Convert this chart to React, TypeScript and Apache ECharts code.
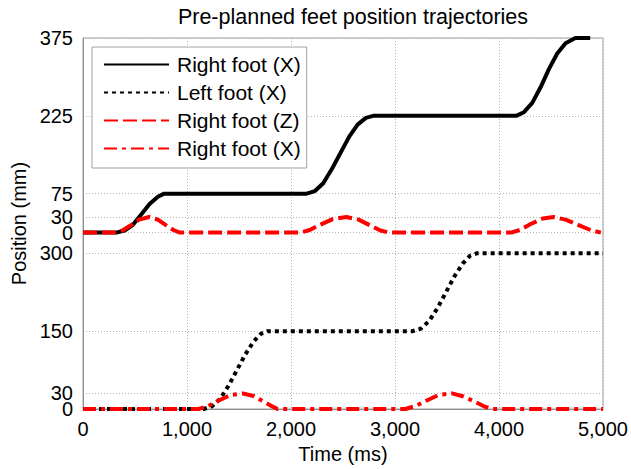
import React, { useEffect, useRef } from "react";
import * as echarts from "echarts";

const chartTitle = "Pre-planned feet position trajectories";
const xAxisName = "Time (ms)";
const yAxisName = "Position (mm)";
const legendLabels = ["Right foot (X)", "Left foot (X)", "Right foot (Z)", "Right foot (X)"];
const seriesKeys = ["rfx", "lfx", "rfz", "lfz"];
const xTicks = [0, 1000, 2000, 3000, 4000, 5000];
const upperTicks = [0, 30, 75, 225, 375];
const lowerTicks = [0, 30, 150, 300];

// upper panel (time ms, position mm)
const rightFootX: [number, number][] = [
  [0, 0], [320, 0], [400, 4], [480, 15], [560, 35], [640, 55], [720, 69], [780, 75],
  [2150, 75], [2230, 80], [2310, 95], [2400, 125], [2480, 155], [2560, 185], [2640, 208], [2720, 221], [2790, 225],
  [4165, 225], [4240, 232], [4320, 250], [4400, 280], [4480, 315], [4560, 345], [4640, 365], [4734, 375], [4877, 375],
];
const rightFootZ: [number, number][] = [
  [0, 0], [300, 0], [380, 4], [460, 14], [540, 25], [635, 30], [720, 25], [800, 14], [870, 5], [930, 0],
  [2090, 0], [2180, 5], [2280, 15], [2400, 26], [2533, 30], [2650, 25], [2760, 14], [2860, 4], [2940, 0],
  [4118, 0], [4200, 5], [4300, 16], [4420, 27], [4525, 30], [4640, 25], [4760, 15], [4880, 5], [4980, 0],
];
// lower panel
const leftFootX: [number, number][] = [
  [0, 0], [1160, 0], [1240, 5], [1320, 20], [1400, 45], [1480, 75], [1560, 105], [1640, 130], [1710, 145], [1774, 150],
  [3170, 150], [3250, 155], [3330, 170], [3410, 195], [3490, 225], [3570, 255], [3650, 280], [3720, 295], [3785, 300],
  [5000, 300],
];
const leftFootZ: [number, number][] = [
  [0, 0], [1110, 0], [1200, 5], [1300, 16], [1420, 27], [1537, 30], [1640, 25], [1740, 14], [1820, 5], [1870, 0],
  [3100, 0], [3200, 6], [3300, 16], [3420, 27], [3548, 30], [3660, 24], [3780, 13], [3870, 4], [3937, 0],
  [5000, 0],
];

const UPPER_OFFSET = 340;
const Y_MAX = UPPER_OFFSET + upperTicks[upperTicks.length - 1];
const FONT = "Liberation Sans, Arial, sans-serif";

export default function App() {
  const ref = useRef<HTMLDivElement>(null);
  useEffect(() => {
    if (!ref.current) return;
    const chart = echarts.init(ref.current, undefined, { renderer: "svg" });
    const shift = (d: [number, number][]) => d.map(([t, v]) => [t, v + UPPER_OFFSET]);
    const allTicks = [...lowerTicks, ...upperTicks.map((v) => v + UPPER_OFFSET)].sort((a, b) => a - b);
    // alternate ticks between two stacked axes so crowded labels are not auto-hidden
    const ticksA = allTicks.filter((_, i) => i % 2 === 0);
    const ticksB = allTicks.filter((_, i) => i % 2 === 1);
    const labelMap: Record<string, string> = {};
    seriesKeys.forEach((k, i) => (labelMap[k] = legendLabels[i]));

    const gridLine = { show: true, lineStyle: { color: "#b4b4b4", type: [1, 2], width: 1 } };
    const yLabel = (vals: number[]) => ({
      fontSize: 20, color: "#000", margin: 10, fontFamily: FONT,
      showMinLabel: true, showMaxLabel: true,
      customValues: vals,
      formatter: (v: number) => String(v >= UPPER_OFFSET ? v - UPPER_OFFSET : v),
    });

    chart.setOption({
      animation: false,
      backgroundColor: "#ffffff",
      textStyle: { fontFamily: FONT },
      title: {
        text: chartTitle,
        left: 348,
        textAlign: "center",
        top: 1,
        textStyle: { fontSize: 21.5, fontWeight: "normal", color: "#000", fontFamily: FONT },
      },
      grid: {
        left: 83, right: 21, top: 38, bottom: 58,
        show: true, borderColor: "#a0a0a0", borderWidth: 1,
      },
      legend: {
        orient: "vertical",
        left: 92,
        top: 47,
        padding: [7, 6, 9, 11],
        backgroundColor: "#ffffff",
        borderColor: "#a0a0a0",
        borderWidth: 1,
        itemWidth: 65,
        itemHeight: 14,
        itemGap: 7,
        data: seriesKeys,
        itemStyle: { opacity: 0 },
        formatter: (name: string) => labelMap[name] ?? name,
        textStyle: { fontSize: 21, color: "#000", fontFamily: FONT, padding: [0, 0, 0, 3] },
      },
      xAxis: {
        type: "value",
        min: xTicks[0],
        max: xTicks[xTicks.length - 1],
        interval: 1000,
        name: xAxisName,
        nameLocation: "middle",
        nameGap: 35,
        nameTextStyle: { fontSize: 20, color: "#000", fontFamily: FONT },
        axisLine: { show: true, lineStyle: { color: "#909090", width: 1 } },
        axisTick: { show: false },
        axisLabel: {
          fontSize: 20, color: "#000", margin: 10, fontFamily: FONT,
          showMinLabel: true, showMaxLabel: true,
          formatter: (v: number) => v.toLocaleString("en-US"),
        },
        splitLine: gridLine,
      },
      yAxis: [
        {
          type: "value",
          position: "left",
          min: 0,
          max: Y_MAX,
          name: yAxisName,
          nameLocation: "middle",
          nameGap: 53,
          nameTextStyle: { fontSize: 20, color: "#000", fontFamily: FONT },
          axisLine: { show: true, lineStyle: { color: "#909090", width: 1 } },
          axisTick: { show: false, customValues: ticksA },
          axisLabel: yLabel(ticksA),
          splitLine: gridLine,
        },
        {
          type: "value",
          position: "left",
          offset: 0,
          min: 0,
          max: Y_MAX,
          axisLine: { show: false },
          axisTick: { show: false, customValues: ticksB },
          axisLabel: yLabel(ticksB),
          splitLine: gridLine,
        },
      ],
      series: [
        {
          name: "rfx", type: "line", data: shift(rightFootX), symbol: "none",
          lineStyle: { color: "#000", width: 4, type: "solid" }, itemStyle: { color: "#000" },
        },
        {
          name: "lfx", type: "line", data: leftFootX, symbol: "none",
          lineStyle: { color: "#000", width: 4, type: [4, 4] }, itemStyle: { color: "#000" },
        },
        {
          name: "rfz", type: "line", data: shift(rightFootZ), symbol: "none",
          lineStyle: { color: "#ff0000", width: 4, type: [14, 5] }, itemStyle: { color: "#ff0000" },
        },
        {
          name: "lfz", type: "line", data: leftFootZ, symbol: "none",
          lineStyle: { color: "#ff0000", width: 4, type: [13, 5, 4, 5] }, itemStyle: { color: "#ff0000" },
        },
      ],
    });
    return () => chart.dispose();
  }, []);
  return <div ref={ref} style={{ width: 631, height: 469, position: "absolute", left: 0, top: 0 }} />;
}
